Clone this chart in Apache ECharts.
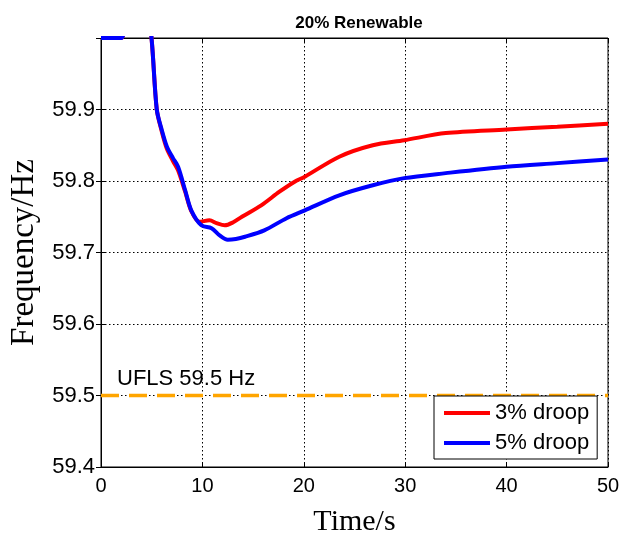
<!DOCTYPE html>
<html><head><meta charset="utf-8">
<script src="https://cdn.jsdelivr.net/npm/echarts@6/dist/echarts.min.js"></script>
<style>html,body{margin:0;padding:0;background:#fff}#c{width:621px;height:533px}</style>
</head><body><div id="c"></div>
<script>
var titleText = "20% Renewable";
var xName = "Time/s";
var yName = "Frequency/Hz";
var seriesNames = ["3% droop", "5% droop"];
var uflsLabel = "UFLS 59.5 Hz";
var uflsValue = 59.5;
var xTicks = [0, 10, 20, 30, 40, 50];
var yTicks = [59.4, 59.5, 59.6, 59.7, 59.8, 59.9];

var redTime = [0, 2, 2.5, 3.5, 4.5, 5.0, 5.5, 6.0, 6.5, 7.1, 7.6, 8.3, 8.9, 9.7, 10.7, 11.4, 12.2, 13.0, 13.9, 15.8, 17.6, 19.1, 20.1, 23.5, 26.8, 29.9, 34, 40, 45, 50];
var redFreq = [60.0, 60.0, 60.05, 60.05, 60.05, 59.997, 59.9, 59.869, 59.845, 59.828, 59.815, 59.785, 59.758, 59.743, 59.745, 59.741, 59.738, 59.742, 59.75, 59.766, 59.785, 59.799, 59.806, 59.834, 59.850, 59.857, 59.867, 59.872, 59.876, 59.880];
var blueTime = [0, 2, 2.5, 3.5, 4.5, 5.0, 5.5, 6.0, 6.5, 7.1, 7.6, 8.3, 8.9, 9.9, 10.9, 11.7, 12.5, 13.3, 14.2, 16.1, 18.3, 20.1, 23.5, 26.8, 29.9, 34, 40, 45, 50];
var blueFreq = [60.0, 60.0, 60.05, 60.05, 60.05, 59.997, 59.9, 59.871, 59.848, 59.832, 59.82, 59.787, 59.759, 59.738, 59.734, 59.724, 59.718, 59.719, 59.722, 59.731, 59.748, 59.759, 59.780, 59.794, 59.804, 59.811, 59.820, 59.825, 59.830];

function pairs(t, v) { return t.map(function (x, i) { return [x, v[i]]; }); }

var chart = echarts.init(document.getElementById('c'), null, {renderer: 'canvas'});
var gridLine = {show: true, lineStyle: {color: '#000', type: [1.5, 2.5], width: 1}};
chart.setOption({
  animation: false,
  backgroundColor: '#fff',
  title: {text: titleText, left: 354, top: 10, textAlign: 'center',
    textStyle: {fontFamily: 'Arial, Liberation Sans', fontWeight: 'bold', fontSize: 17, color: '#000'}},
  grid: {left: 101, top: 38, width: 507, height: 429, show: true, borderColor: '#000', borderWidth: 1,
    backgroundColor: '#fff', containLabel: false, outerBoundsMode: 'none'},
  legend: {
    data: seriesNames, orient: 'vertical', left: 434, top: 396,
    backgroundColor: '#fff', borderColor: '#000', borderWidth: 1,
    padding: [6, 8, 5, 10], itemGap: 8, icon: 'rect', itemWidth: 46, itemHeight: 4,
    textStyle: {fontFamily: 'Arial, Liberation Sans', fontSize: 22, color: '#000', padding: [0, 0, 0, 0]}
  },
  xAxis: [{
    type: 'value', min: xTicks[0], max: xTicks[xTicks.length - 1], interval: 10,
    name: xName, nameLocation: 'middle', nameGap: 40,
    nameTextStyle: {fontFamily: 'Times New Roman, Liberation Serif', fontSize: 30, color: '#000'},
    axisLine: {show: true, onZero: false, lineStyle: {color: '#000', width: 1}},
    axisTick: {inside: true, length: 5, lineStyle: {color: '#000'}},
    axisLabel: {fontFamily: 'Arial, Liberation Sans', fontSize: 20, color: '#000', margin: 9},
    splitLine: gridLine
  }, {
    type: 'value', position: 'top', min: 0, max: 50, interval: 10,
    axisLine: {show: true, lineStyle: {color: '#000'}},
    axisTick: {inside: true, length: 5, lineStyle: {color: '#000'}},
    axisLabel: {show: false}, splitLine: {show: false}
  }],
  yAxis: [{
    type: 'value', min: yTicks[0], max: 60.0, interval: 0.1,
    name: yName, nameLocation: 'middle', nameGap: 56,
    nameTextStyle: {fontFamily: 'Times New Roman, Liberation Serif', fontSize: 33, color: '#000'},
    axisLine: {show: true, onZero: false, lineStyle: {color: '#000', width: 1}},
    axisTick: {inside: true, length: 5, lineStyle: {color: '#000'}},
    axisLabel: {fontFamily: 'Arial, Liberation Sans', fontSize: 22, color: '#000', margin: 6,
      showMaxLabel: false,
      formatter: function (v) { return v >= 59.999 ? '' : v.toFixed(1); }},
    splitLine: gridLine
  }, {
    type: 'value', position: 'right', min: 59.4, max: 60.0, interval: 0.1,
    axisLine: {show: true, lineStyle: {color: '#000'}},
    axisTick: {inside: true, length: 5, lineStyle: {color: '#000'}},
    axisLabel: {show: false}, splitLine: {show: false}
  }],
  graphic: [{
    type: 'text', left: 117, top: 368, z: 10,
    style: {text: uflsLabel, font: '22px Arial, "Liberation Sans"', fill: '#000'}
  }],
  series: [{
    name: 'UFLS', type: 'line', data: [[0, uflsValue], [50, uflsValue]], symbol: 'none', silent: true,
    lineStyle: {color: '#FFA500', width: 3.5, type: [18, 10]}, z: 1
  }, {
    name: seriesNames[0], type: 'line', data: pairs(redTime, redFreq), symbol: 'none', smooth: 0.3, clip: true,
    lineStyle: {color: '#FF0000', width: 4}, itemStyle: {color: '#FF0000'}, z: 2
  }, {
    name: seriesNames[1], type: 'line', data: pairs(blueTime, blueFreq), symbol: 'none', smooth: 0.3, clip: true,
    lineStyle: {color: '#0000FF', width: 4}, itemStyle: {color: '#0000FF'}, z: 3
  }]
});
</script></body></html>
